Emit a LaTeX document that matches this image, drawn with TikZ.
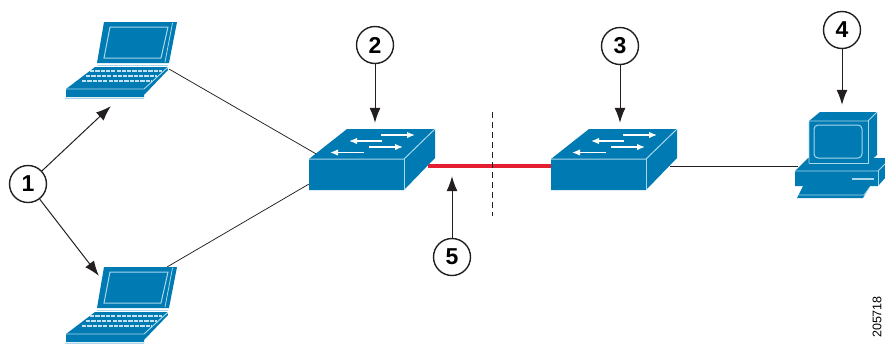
\documentclass[tikz,border=0pt]{standalone}
\usepackage{fontspec}
\setmainfont{Liberation Sans}
\usetikzlibrary{arrows.meta}
\definecolor{dev}{RGB}{0,122,178}
\definecolor{devl}{RGB}{170,215,235}
\definecolor{wire}{RGB}{35,31,32}
\definecolor{redl}{RGB}{230,30,50}
\tikzset{
 x=1pt,y=-1pt,
 hl/.style={draw=devl,line width=1pt},
 num/.style={circle,draw=wire,line width=1.4pt,fill=white,minimum size=37pt,inner sep=0pt,font=\fontsize{23}{23}\selectfont\bfseries},
 call/.style={-{Latex[length=15pt,width=11pt]},draw=wire,line width=1pt},
 wireline/.style={draw=wire,line width=0.75pt},
 anchorpt/.style={inner sep=0pt,minimum size=0pt},
 sarrow/.style={draw=white,line width=1.4pt,-{Latex[length=8pt,width=6.5pt]}},
}
\newcommand{\mylaptop}[2]{%
 \begin{scope}[shift={(#1,#2)}]
  \fill[dev] (104,22)--(177,22)--(169,63)--(97,63)--cycle;
  \draw[hl,line width=0.8pt] (172.5,23)--(165,62);
  \draw[hl] (110,27)--(168,27)--(161,58)--(104,58)--cycle;
  \draw[devl,line width=0.9pt] (97,65)--(168,65);
  \fill[dev] (95,67)--(167,67)--(168,70)--(144,95)--(144,97)--(66,97)--(66,89)--cycle;
  \draw[devl,line width=0.9pt] (66,89)--(144,89)--(167,68);
  \draw[devl,line width=0.9pt] (65,98)--(144,98);
  \foreach \yy/\a/\b in {71/90/162,76/86/157,81/82/152}{
    \draw[devl!70!white,line width=2pt,dash pattern=on 4.2pt off 1.1pt] (\a,\yy)--(\b,\yy);
  }
 \end{scope}}
\newcommand{\myswitch}[2]{%
 \begin{scope}[shift={(#1,#2)}]
  \fill[dev] (347,129)--(435,129)--(435,158)--(404,190)--(309,190)--(309,159)--cycle;
  \draw[devl,line width=1pt] (309,159)--(404,159)--(435,129);
  \draw[devl,line width=1pt] (404,159)--(404,190);
  \draw[sarrow] (381,135)--(415,135);
  \draw[sarrow] (382,141)--(349,141);
  \draw[sarrow] (369,147)--(403,147);
  \draw[sarrow] (364,152.5)--(330,152.5);
 \end{scope}}
\begin{document}
\begin{tikzpicture}
\useasboundingbox (0,0) rectangle (885,346);
\node[anchorpt] (lap1) at (169,69) {};
\node[anchorpt] (lap2) at (167,267) {};
\node[anchorpt] (swaL1) at (318,155) {};
\node[anchorpt] (swaL2) at (309,184) {};
\node[anchorpt] (swaR) at (428,166) {};
\node[anchorpt] (swbL) at (551,166) {};
\node[anchorpt] (swbR) at (670,166) {};
\node[anchorpt] (pc) at (798,166) {};
\node[anchorpt] (cutT) at (492,112) {};
\node[anchorpt] (cutB) at (492,216) {};
\draw[wireline] (lap1)--(swaL1);
\draw[wireline] (lap2)--(swaL2);
\draw[wireline] (swbR)--(pc);
\draw[redl,line width=4.2pt] (swaR)--(swbL);
\draw[wireline,dash pattern=on 6pt off 4pt] (cutT)--(cutB);
\mylaptop{0}{0}
\mylaptop{0}{245}
\myswitch{0}{0}
\myswitch{242}{0}
% PC
\fill[dev] (808,158)--(885,158)--(885,178)--(878,186)--(795,186)--(795,171)--cycle;
\draw[devl,line width=0.8pt] (795,171)--(878,171)--(885,164);
\draw[devl,line width=0.8pt] (878,171)--(878,186);
\draw[devl,line width=1.5pt] (852,179)--(874,179);
\fill[dev] (809,121)--(820,112)--(877,112)--(877,155)--(868,163)--(809,163)--cycle;
\draw[devl,line width=0.8pt] (809,163)--(809,121)--(868,121)--(877,112);
\draw[devl,line width=0.8pt] (868,121)--(868,163)--(809,163);
\draw[devl,line width=1pt,rounded corners=4pt] (814,125)--(862,125)--(862,158)--(814,158)--cycle;
\fill[dev] (803,186)--(870,186)--(863,198)--(797,198)--cycle;
\draw[devl,line width=0.8pt] (799,195)--(864,195)--(870,187);
% callouts
\node[num] (n1) at (28,184) {1};
\node[num] (n2) at (375,45) {2};
\node[num] (n3) at (620,46) {3};
\node[num] (n4) at (842,30) {4};
\node[num] (n5) at (452,257) {5};
\node[anchorpt] (t1a) at (111,106) {};
\node[anchorpt] (t1b) at (99,276) {};
\node[anchorpt] (t2) at (375,123) {};
\node[anchorpt] (t3) at (620,123) {};
\node[anchorpt] (t4) at (842,105) {};
\node[anchorpt] (t5) at (452,176) {};
\draw[call] (n1)--(t1a);
\draw[call] (n1)--(t1b);
\draw[call] (n2)--(t2);
\draw[call] (n3)--(t3);
\draw[call] (n4)--(t4);
\draw[call] (n5)--(t5);
\node[rotate=90,font=\fontsize{12.5}{12.5}\selectfont,inner sep=0pt] (id) at (877,317) {205718};
\end{tikzpicture}
\end{document}
